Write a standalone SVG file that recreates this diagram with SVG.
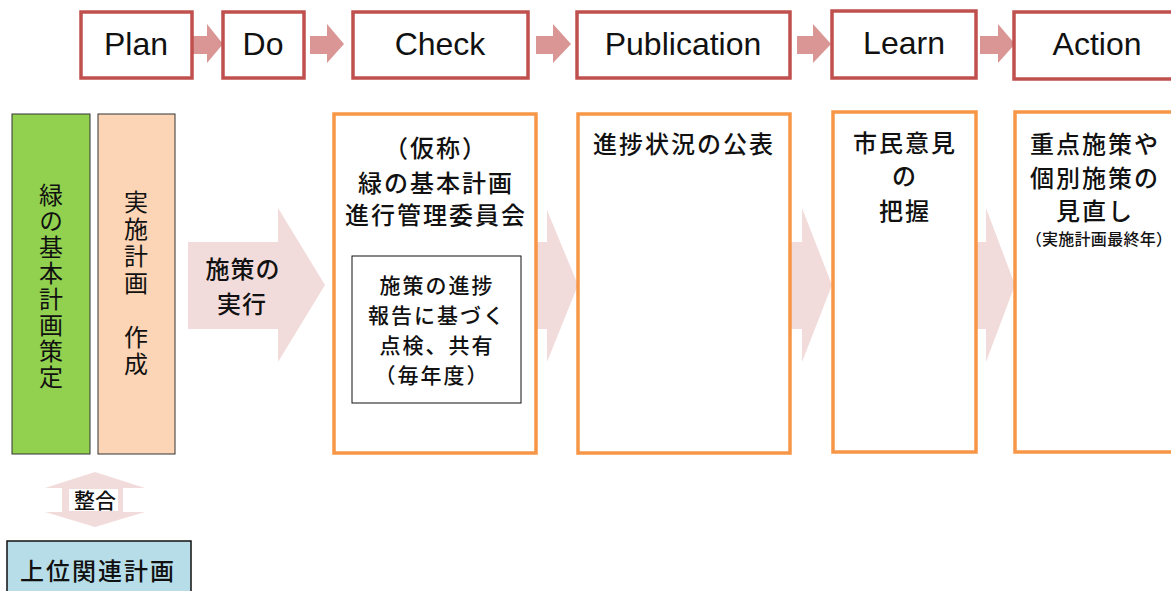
<svg xmlns="http://www.w3.org/2000/svg" width="1171" height="591" viewBox="0 0 1171 591">
<style>
.phase{fill:#fff;stroke:#c0504d;stroke-width:3.5}
.ptxt{font-family:"Liberation Sans",Arial,sans-serif;font-size:32px;fill:#111;text-anchor:middle}
.sarrow{fill:#d99694}
.barrow{fill:#f2dcdb}
.obox{fill:#fff;stroke:#f79646;stroke-width:3.5}
.jp{font-family:"Noto Sans CJK JP","Noto Sans CJK SC",sans-serif;fill:#111}
.m{font-weight:500}
.c{text-anchor:middle}
.l24{font-size:24px;letter-spacing:2px}
.l21{font-size:21px;letter-spacing:2px}
</style>
<rect width="1171" height="591" fill="#fff"/>
<g id="connectors">
<polygon class="sarrow" points="192,36 207,36 207,24 223,44 207,63 207,54 192,54"/>
<polygon class="sarrow" points="310,36 327,36 327,24 344,44 327,63 327,54 310,54"/>
<polygon class="sarrow" points="536,36 553,36 553,24 571,44 553,63 553,54 536,54"/>
<polygon class="sarrow" points="797,36 813,36 813,24 831,44 813,63 813,54 797,54"/>
<polygon class="sarrow" points="980,36 998,36 998,24 1015,44 998,63 998,54 980,54"/>
<polygon class="barrow" points="188,242 278,242 278,208 325,285 278,362 278,329 188,329"/>
<polygon class="barrow" points="530,242 547,242 547,210 578,285 547,362 547,329 530,329"/>
<polygon class="barrow" points="788,242 802,242 802,208 832,285 802,362 802,329 788,329"/>
<polygon class="barrow" points="972,242 986,242 986,208 1015,285 986,362 986,329 972,329"/>
<polygon class="barrow" points="95,472 145,488 123,488 123,512 145,512 95,527 45,512 62,512 62,488 45,488"/>
<rect x="69" y="489" width="49" height="22" fill="#fff"/>
<text class="jp c m" x="95" y="508" style="font-size:21px">整合</text>
</g>
<g id="plan"><rect class="phase" x="81" y="12" width="111" height="66"/><text class="ptxt" x="136" y="55">Plan</text></g>
<g id="do"><rect class="phase" x="223" y="12" width="81" height="66"/><text class="ptxt" x="263" y="55">Do</text></g>
<g id="check"><rect class="phase" x="353" y="12" width="175" height="66"/><text class="ptxt" x="440" y="55">Check</text></g>
<g id="publication"><rect class="phase" x="577" y="12" width="213" height="66"/><text class="ptxt" x="683" y="55">Publication</text></g>
<g id="learn"><rect class="phase" x="832" y="11" width="144" height="67"/><text class="ptxt" x="904" y="54">Learn</text></g>
<g id="action"><rect class="phase" x="1014" y="12" width="170" height="67"/><text class="ptxt" x="1097" y="55">Action</text></g>
<g id="kihon"><rect x="12" y="114" width="78" height="340" fill="#92d050" stroke="#333" stroke-width="1"/>
<text class="jp l24" x="51" y="183" writing-mode="vertical-rl">緑の基本計画策定</text></g>
<g id="jisshi"><rect x="98" y="114" width="77" height="340" fill="#fbd5b5" stroke="#333" stroke-width="1"/>
<text class="jp" x="136" y="190" writing-mode="vertical-rl" style="font-size:24px;letter-spacing:3px">実施計画　作成</text></g>
<g id="shisaku"><text class="jp c m" x="243" y="278" style="font-size:24px;letter-spacing:1px">施策の</text><text class="jp c m" x="242" y="313" style="font-size:24px;letter-spacing:1px">実行</text></g>
<g id="iinkai"><rect class="obox" x="334" y="114" width="202" height="339"/>
<text class="jp c l24 m" x="436" y="157">（仮称）</text>
<text class="jp c l24 m" x="436" y="192">緑の基本計画</text>
<text class="jp c l24 m" x="436" y="224">進行管理委員会</text></g>
<g id="tenken"><rect x="352" y="256" width="169" height="147" fill="#fff" stroke="#111" stroke-width="1"/>
<text class="jp c l21 m" x="437" y="293">施策の進捗</text>
<text class="jp c l21 m" x="437" y="323">報告に基づく</text>
<text class="jp c l21 m" x="437" y="353">点検、共有</text>
<text class="jp c l21 m" x="432" y="383">（毎年度）</text></g>
<g id="kohyo"><rect class="obox" x="578" y="114" width="212" height="339"/>
<text class="jp c l24 m" x="684" y="153">進捗状況の公表</text></g>
<g id="iken"><rect class="obox" x="833" y="112" width="143" height="340"/>
<text class="jp c l24 m" x="905" y="152">市民意見</text>
<text class="jp c l24 m" x="905" y="185">の</text>
<text class="jp c l24 m" x="905" y="220">把握</text></g>
<g id="minaoshi"><rect class="obox" x="1015" y="112" width="170" height="340"/>
<text class="jp c l24 m" x="1095" y="153">重点施策や</text>
<text class="jp c l24 m" x="1095" y="187">個別施策の</text>
<text class="jp c l24 m" x="1095" y="220">見直し</text>
<text class="jp c m" x="1099" y="245" style="font-size:16px;letter-spacing:0.3px">（実施計画最終年）</text></g>
<g id="joui"><rect x="7" y="541" width="184" height="60" fill="#b7dee8" stroke="#111" stroke-width="1.5"/>
<text class="jp c m" x="98" y="580" style="font-size:24px;letter-spacing:2px">上位関連計画</text></g>
</svg>
